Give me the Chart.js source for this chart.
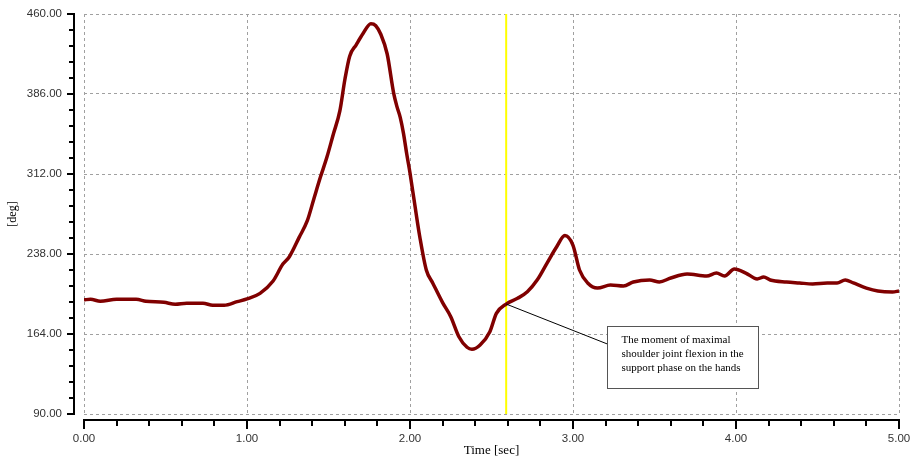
<!DOCTYPE html>
<html><head><meta charset="utf-8">
<script src="https://cdn.jsdelivr.net/npm/chart.js@4/dist/chart.umd.min.js"></script>
<style>html,body{margin:0;padding:0;background:#fff}canvas{display:block}</style>
</head><body>
<canvas id="c" width="911" height="458"></canvas>
<script>
const timeSec = [0.00,0.04,0.10,0.20,0.32,0.38,0.49,0.56,0.63,0.73,0.79,0.86,0.94,1.00,1.08,1.16,1.22,1.26,1.32,1.37,1.41,1.45,1.49,1.53,1.57,1.60,1.63,1.67,1.71,1.76,1.79,1.82,1.86,1.90,1.92,1.94,1.96,1.98,2.00,2.03,2.06,2.10,2.14,2.20,2.25,2.30,2.35,2.38,2.43,2.49,2.53,2.59,2.66,2.72,2.78,2.84,2.90,2.95,3.00,3.04,3.09,3.15,3.23,3.31,3.37,3.47,3.53,3.60,3.70,3.82,3.88,3.93,3.99,4.06,4.13,4.17,4.21,4.31,4.39,4.47,4.56,4.62,4.67,4.72,4.80,4.87,4.96,5.00];
const shoulderDeg = [195.6,196.1,194.4,196.1,196.1,194.3,193.3,191.5,192.4,192.4,190.6,190.6,193.9,196.4,201.6,213.0,228.7,235.5,253.4,268.8,288.9,308.9,327.4,349.0,370.6,399.0,421.0,431.5,441.5,451.0,449.2,441.5,423.0,386.6,374.3,364.4,349.6,330.5,313.0,283.0,254.0,223.2,211.0,193.0,180.0,161.5,151.7,149.8,153.8,166.1,183.1,191.7,197.0,203.1,213.9,229.4,244.7,255.0,246.0,223.2,211.2,206.5,209.3,208.4,212.1,214.0,212.1,215.8,219.5,217.6,220.4,217.6,224.1,220.4,214.9,216.7,214.0,212.1,211.2,210.3,211.2,211.2,214.0,211.2,206.5,203.8,202.9,203.8];
const xTicks = [0,1,2,3,4,5];
const yTicks = [90,164,238,312,386,460];
const xMinorStep = 0.2;
const yMinorStep = 14.8;
const markerTime = 2.59;
const noteTimeRange = [3.21, 4.135];
const noteValueRange = [171.4, 114.0];
const noteLinkValue = 154.7;
const noteLines = ["The moment of maximal", "shoulder joint flexion in the", "support phase on the hands"];
const xTitle = "Time [sec]";
const yTitle = "[deg]";

const points = timeSec.map((t, i) => ({x: t, y: shoulderDeg[i]}));
const markerValue = shoulderDeg[timeSec.indexOf(markerTime)];

const decorPlugin = {
  id: 'decor',
  beforeDatasetsDraw(chart) {
    const {ctx, chartArea: a, scales: {x}} = chart;
    const px = x.getPixelForValue(markerTime);
    ctx.save();
    ctx.strokeStyle = '#ffff00';
    ctx.lineWidth = 2;
    ctx.beginPath(); ctx.moveTo(px, a.top); ctx.lineTo(px, a.bottom); ctx.stroke();
    ctx.restore();
  },
  afterDatasetsDraw(chart) {
    const {ctx, scales: {x, y}} = chart;
    const px = x.getPixelForValue(markerTime), py = y.getPixelForValue(markerValue);
    const bx0 = Math.round(x.getPixelForValue(noteTimeRange[0])) + 0.5;
    const bx1 = Math.round(x.getPixelForValue(noteTimeRange[1])) + 0.5;
    const by0 = Math.round(y.getPixelForValue(noteValueRange[0])) + 0.5;
    const by1 = Math.round(y.getPixelForValue(noteValueRange[1])) + 0.5;
    const ly = y.getPixelForValue(noteLinkValue);
    ctx.save();
    ctx.strokeStyle = '#000'; ctx.lineWidth = 1;
    ctx.beginPath(); ctx.moveTo(px, py); ctx.lineTo(bx0, ly); ctx.stroke();
    ctx.fillStyle = '#fff';
    ctx.fillRect(bx0, by0, bx1 - bx0, by1 - by0);
    ctx.strokeStyle = '#555';
    ctx.strokeRect(bx0, by0, bx1 - bx0, by1 - by0);
    ctx.fillStyle = '#000';
    ctx.font = '11px "Liberation Serif", "Times New Roman", serif';
    ctx.textBaseline = 'middle';
    ctx.textAlign = 'left';
    noteLines.forEach((s, i) => ctx.fillText(s, bx0 + 14, by0 + 13.5 + i * 14));
    ctx.restore();
  },
  afterDraw(chart) {
    const {ctx, chartArea: a, scales: {x, y}} = chart;
    const ax = a.left - 10;
    const ay = a.bottom + 6;
    ctx.save();
    ctx.strokeStyle = '#000';
    ctx.lineWidth = 2;
    ctx.beginPath(); ctx.moveTo(ax, a.top - 1); ctx.lineTo(ax, a.bottom + 1); ctx.stroke();
    ctx.beginPath(); ctx.moveTo(a.left - 1, ay); ctx.lineTo(a.right + 1, ay); ctx.stroke();
    for (let k = 0; k < yTicks.length; k++) {
      const v = yTicks[k];
      const p = Math.round(y.getPixelForValue(v));
      ctx.beginPath(); ctx.moveTo(ax - 7, p); ctx.lineTo(ax, p); ctx.stroke();
      if (k < yTicks.length - 1) {
        for (let m = 1; m < 5; m++) {
          const q = Math.round(y.getPixelForValue(v + m * yMinorStep));
          ctx.beginPath(); ctx.moveTo(ax - 5, q); ctx.lineTo(ax, q); ctx.stroke();
        }
      }
    }
    for (let k = 0; k < xTicks.length; k++) {
      const v = xTicks[k];
      const p = Math.round(x.getPixelForValue(v));
      ctx.beginPath(); ctx.moveTo(p, ay); ctx.lineTo(p, ay + 9); ctx.stroke();
      if (k < xTicks.length - 1) {
        for (let m = 1; m < 5; m++) {
          const q = Math.round(x.getPixelForValue(v + m * xMinorStep));
          ctx.beginPath(); ctx.moveTo(q, ay); ctx.lineTo(q, ay + 6); ctx.stroke();
        }
      }
    }
    ctx.restore();
  }
};

new Chart(document.getElementById('c'), {
  type: 'line',
  data: {
    datasets: [{
      data: points,
      borderColor: '#800000',
      borderWidth: 3.5,
      pointRadius: 0,
      cubicInterpolationMode: 'monotone',
      fill: false
    }]
  },
  options: {
    responsive: false,
    animation: false,
    layout: {padding: {top: 14, right: 12, left: 0, bottom: 0}},
    plugins: {legend: {display: false}, tooltip: {enabled: false}},
    scales: {
      x: {
        type: 'linear', min: 0, max: 5,
        afterBuildTicks: s => { s.ticks = xTicks.map(v => ({value: v})); },
        afterFit: s => { s.height = 44; s.paddingLeft = 0; s.paddingRight = 0; s.paddingTop = 0; s.paddingBottom = 0; },
        grid: {color: '#a0a0a0', lineWidth: 1, drawTicks: false},
        border: {display: false, dash: [3, 3]},
        ticks: {
          padding: 18, maxRotation: 0, color: '#333',
          font: {family: '"Liberation Sans", Arial, sans-serif', size: 11.5},
          callback: v => Number(v).toFixed(2)
        },
        title: {display: true, text: xTitle, color: '#000', padding: {top: 0, bottom: 0},
          font: {family: '"Liberation Serif", "Times New Roman", serif', size: 13}}
      },
      y: {
        type: 'linear', min: 90, max: 460,
        afterBuildTicks: s => { s.ticks = yTicks.map(v => ({value: v})); },
        afterFit: s => { s.width = 84; s.paddingLeft = 0; s.paddingRight = 0; s.paddingTop = 0; s.paddingBottom = 0; },
        grid: {color: '#a0a0a0', lineWidth: 1, drawTicks: false},
        border: {display: false, dash: [3, 3]},
        ticks: {
          padding: 22, color: '#333',
          font: {family: '"Liberation Sans", Arial, sans-serif', size: 11.5},
          callback: v => Number(v).toFixed(2)
        },
        title: {display: true, text: yTitle, color: '#000', padding: {top: 6, bottom: 0},
          font: {family: '"Liberation Serif", "Times New Roman", serif', size: 12}}
      }
    }
  },
  plugins: [decorPlugin]
});
</script>
</body></html>
